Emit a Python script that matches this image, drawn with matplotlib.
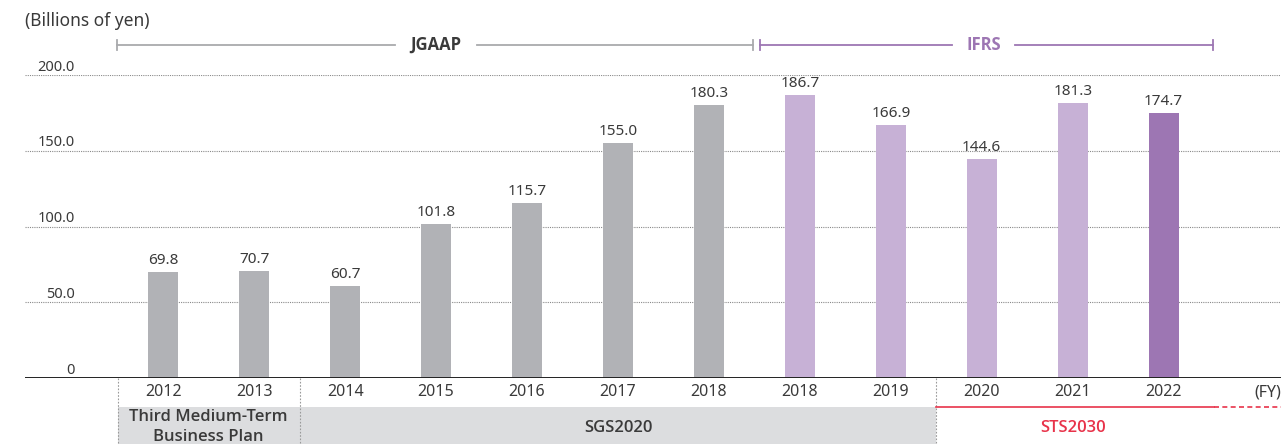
import matplotlib.pyplot as plt
import matplotlib.transforms as mtransforms

plt.rcParams['font.family'] = ['Noto Sans', 'DejaVu Sans']

# --- data ---
years = ['2012', '2013', '2014', '2015', '2016', '2017', '2018',
         '2018', '2019', '2020', '2021', '2022']
values = [69.8, 70.7, 60.7, 101.8, 115.7, 155.0, 180.3,
          186.7, 166.9, 144.6, 181.3, 174.7]
standards = ['JGAAP'] * 7 + ['IFRS'] * 5
y_ticks = [0, 50, 100, 150, 200]
y_tick_labels = ['0', '50.0', '100.0', '150.0', '200.0']

GRAY = '#b1b2b6'
LIGHT_PURPLE = '#c7b1d6'
DARK_PURPLE = '#9d76b3'
TEXT = '#3a3a3a'
RED = '#e8334a'
BOLD_FONT = ['Open Sans', 'DejaVu Sans']

colors = [GRAY if s == 'JGAAP' else LIGHT_PURPLE for s in standards]
colors[-1] = DARK_PURPLE

W, H = 1281, 444
fig = plt.figure(figsize=(W / 100, H / 100), dpi=100)
ax = fig.add_axes([25 / W, 1 - 378 / H, 1 - 25 / W, (378 - 75) / H])

x = list(range(len(years)))
bars = ax.bar(x, values, width=0.33, color=colors, zorder=3)

for b, v in zip(bars, values):
    ax.annotate(f'{v:.1f}', (b.get_x() + b.get_width() / 2, v),
                xytext=(0, 3), textcoords='offset points',
                ha='center', va='bottom', fontsize=11, color=TEXT)

ax.set_xlim(-1.52, 12.29)
ax.set_ylim(0, 200)

# grid lines + y labels
for t in y_ticks[1:]:
    ax.axhline(t, color='#8a8a8a', lw=0.8, ls=(0, (1, 1)), zorder=1)
ylab_tr = mtransforms.blended_transform_factory(fig.transFigure, ax.transData)
for t, lab in zip(y_ticks, y_tick_labels):
    ax.text(75 / W, t + 0.2, lab, transform=ylab_tr, ha='right', va='bottom',
            fontsize=10.5, color=TEXT)

ax.axhline(0, color='#222222', lw=1.4, zorder=4)

for s in ax.spines.values():
    s.set_visible(False)
ax.set_xticks([])
ax.set_yticks([])

# year labels below the axis
for xi, yr in zip(x, years):
    ax.text(xi, -9.5, yr, ha='center', va='center', fontsize=11.5,
            color=TEXT, clip_on=False)
ax.text(12.29, -9.5, '(FY)', ha='right', va='center', fontsize=11.5,
        color=TEXT, clip_on=False)

# plan bands
def px_to_y(py):
    return (378 - py) / ((378 - 75) / 200)

band_top = px_to_y(407)
band_bot = px_to_y(444)
ax.fill_between([-0.5, 1.5], band_bot, band_top, color='#dcdddf',
                clip_on=False, zorder=0, lw=0)
ax.fill_between([1.5, 8.5], band_bot, band_top, color='#dcdddf',
                clip_on=False, zorder=0, lw=0)
for xv in [-0.5, 1.5, 8.5]:
    ax.plot([xv, xv], [0, band_bot], color='#9a9a9a', lw=0.8,
            ls=(0, (1.5, 1.5)), clip_on=False, zorder=1)
ax.text(0.5, px_to_y(427), 'Third Medium-Term\nBusiness Plan', ha='center',
        va='center', fontsize=12, color=TEXT, clip_on=False,
        linespacing=1.35, family=BOLD_FONT, fontweight='semibold')
ax.text(5.0, px_to_y(428), 'SGS2020', ha='center', va='center',
        fontsize=12, color=TEXT, clip_on=False, family=BOLD_FONT,
        fontweight='semibold')
ax.plot([8.5, 11.55], [band_top, band_top], color=RED, lw=1.2,
        clip_on=False)
ax.plot([11.55, 12.29], [band_top, band_top], color=RED, lw=1.2,
        ls=(0, (3, 2)), clip_on=False)
ax.text(10.0, px_to_y(428), 'STS2030', ha='center', va='center',
        fontsize=12, color=RED, clip_on=False, family=BOLD_FONT,
        fontweight='semibold')

# accounting standard brackets
yb = px_to_y(45)
tick_h = 3.5

def bracket(x0, x1, label, xl, color, txt_color, half):
    ax.plot([x0, xl - half], [yb, yb], color=color, lw=1.3, clip_on=False)
    ax.plot([xl + half, x1], [yb, yb], color=color, lw=1.3, clip_on=False)
    for xv in (x0, x1):
        ax.plot([xv, xv], [yb - tick_h, yb + tick_h], color=color, lw=1.3,
                clip_on=False)
    ax.text(xl, yb, label, ha='center', va='center', fontsize=12,
            fontweight='bold', family=BOLD_FONT, color=txt_color,
            clip_on=False)

bracket(-0.505, 6.48, 'JGAAP', 3.0, '#a9aaad', TEXT, 0.45)
bracket(6.56, 11.54, 'IFRS', 9.02, DARK_PURPLE, DARK_PURPLE, 0.35)

fig.text(25 / W, 1 - 21 / H, '(Billions of yen)', ha='left', va='center',
         fontsize=12.5, color=TEXT)

fig.savefig('out.png', dpi=100)
